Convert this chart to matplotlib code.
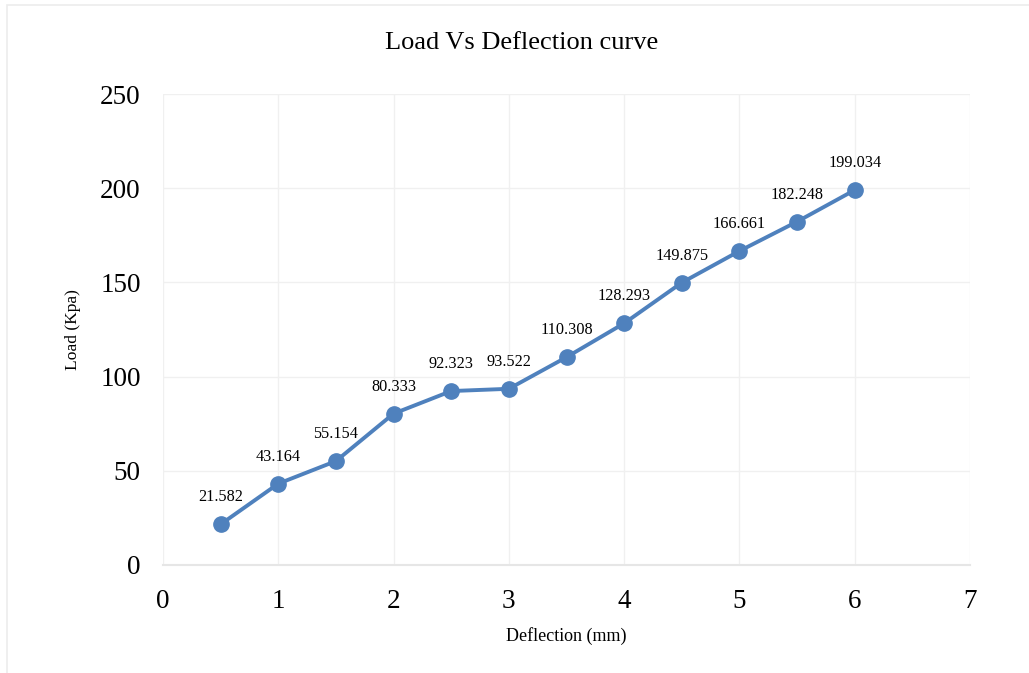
import matplotlib.pyplot as plt
from matplotlib.patches import Rectangle

# Deflection vs load readings
deflection = [0.5, 1, 1.5, 2, 2.5, 3, 3.5, 4, 4.5, 5, 5.5, 6]
load = [21.582, 43.164, 55.154, 80.333, 92.323, 93.522,
        110.308, 128.293, 149.875, 166.661, 182.248, 199.034]
x_ticks = [0, 1, 2, 3, 4, 5, 6, 7]
y_ticks = [0, 50, 100, 150, 200, 250]

plt.rcParams['font.family'] = ['Liberation Serif', 'DejaVu Serif']

fig = plt.figure(figsize=(10.29, 6.73), dpi=100)
ax = fig.add_axes([0.1584, 0.1605, 0.7843, 0.6998])

# light frame around the chart
fig.patches.append(Rectangle((7 / 1029, -0.1), 1.2, 1 - 5.5 / 673 + 0.1,
                             transform=fig.transFigure, fill=False,
                             edgecolor='#ececec', linewidth=1.2))

ax.plot(deflection, load, color='#4f81bd', linewidth=2.8, marker='o',
        markersize=11, zorder=3)

for x, y in zip(deflection, load):
    ax.annotate(f'{y:g}', (x, y), xytext=(0, 19.5), textcoords='offset points',
                ha='center', va='center', fontsize=11.7)

ax.set_xlim(0, 7)
ax.set_ylim(0, 250)
ax.set_xticks(x_ticks)
ax.set_yticks(y_ticks)
ax.tick_params(axis='both', length=0, labelsize=19.5)
ax.tick_params(axis='x', pad=17)
ax.tick_params(axis='y', pad=16)
ax.grid(True, color='#f0f0f0', linewidth=1)
ax.set_axisbelow(True)
for side in ['top', 'right', 'left']:
    ax.spines[side].set_visible(False)
ax.spines['bottom'].set_color('#e6e6e6')
ax.spines['bottom'].set_linewidth(1.5)

ax.set_xlabel('Deflection (mm)', fontsize=13, labelpad=10)
ax.set_ylabel('Load (Kpa)', fontsize=12.6, labelpad=14)
fig.text(0.507, 1 - 43 / 673, 'Load Vs Deflection curve', ha='center',
         va='center', fontsize=19)

fig.savefig('out.png', dpi=100)
